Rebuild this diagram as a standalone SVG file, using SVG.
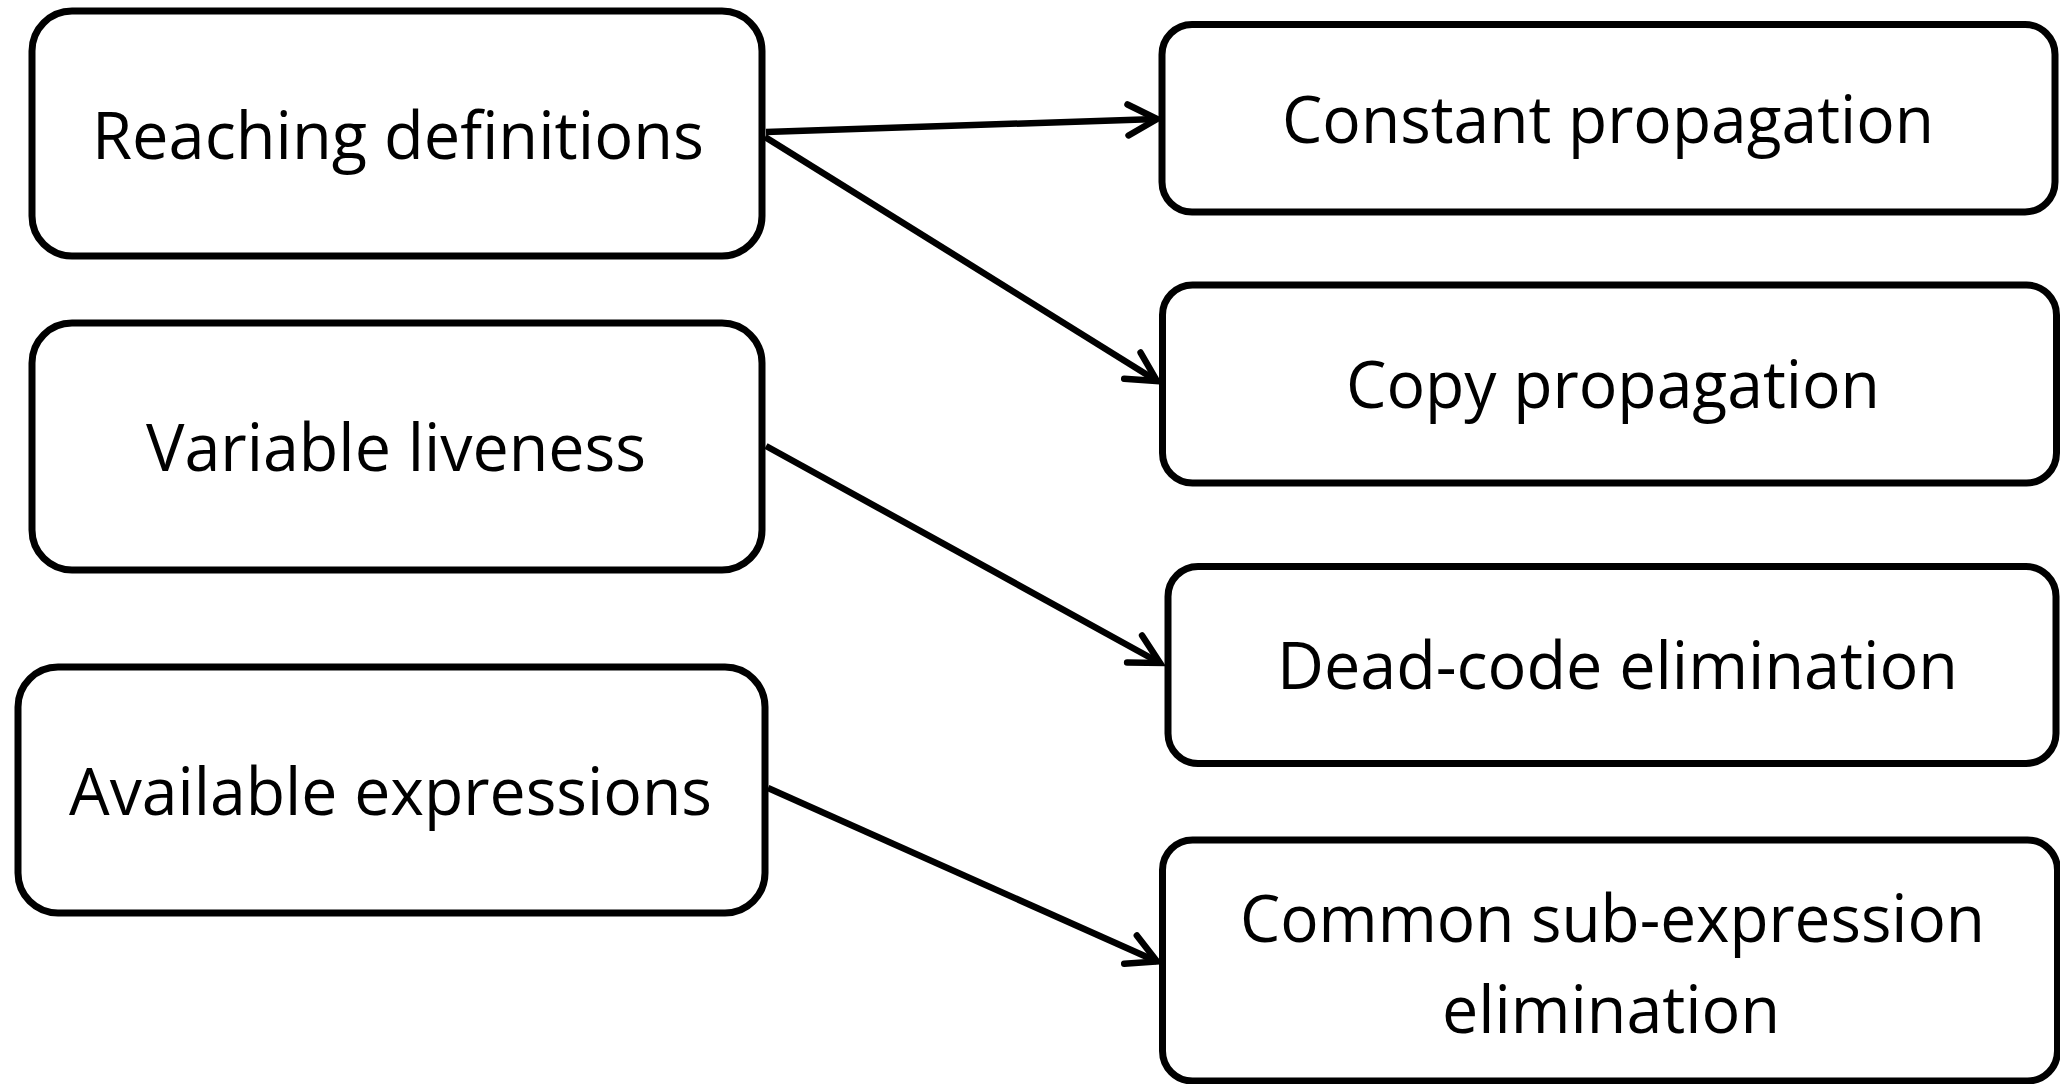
<svg xmlns="http://www.w3.org/2000/svg" width="2060" height="1084" viewBox="0 0 2060 1084">
<style>
.box{fill:#fff;stroke:#000;stroke-width:7}
.lbl{font-family:"Open Sans","Noto Sans","Liberation Sans",sans-serif;font-size:65px;fill:#000;text-anchor:middle}
.edge{fill:none;stroke:#000;stroke-width:6.5}
</style>
<defs>
<marker id="arr" markerUnits="userSpaceOnUse" orient="auto" refX="0" refY="0" markerWidth="60" markerHeight="60" viewBox="-40 -30 60 60" overflow="visible">
<path d="M-29,-15.5 L0,0 L-29,15.5" fill="none" stroke="#000" stroke-width="6.5" stroke-linecap="round" stroke-linejoin="miter"/>
</marker>
</defs>
<rect width="2060" height="1084" fill="#fff"/>
<g id="edges">
<line class="edge" x1="766" y1="132" x2="1157" y2="119" marker-end="url(#arr)"/>
<line class="edge" x1="765" y1="137" x2="1157" y2="381" marker-end="url(#arr)"/>
<line class="edge" x1="766" y1="446" x2="1160" y2="663" marker-end="url(#arr)"/>
<line class="edge" x1="768" y1="788" x2="1157" y2="961.5" marker-end="url(#arr)"/>
</g>
<g id="reaching">
<rect class="box" x="32" y="11" width="730" height="245" rx="40"/>
<text class="lbl" x="398" y="159" textLength="612" lengthAdjust="spacingAndGlyphs">Reaching definitions</text>
</g>
<g id="liveness">
<rect class="box" x="32" y="323" width="730" height="247" rx="40"/>
<text class="lbl" x="396" y="471" textLength="500" lengthAdjust="spacingAndGlyphs">Variable liveness</text>
</g>
<g id="available">
<rect class="box" x="18" y="667" width="747" height="246" rx="40"/>
<text class="lbl" x="390.5" y="815" textLength="643" lengthAdjust="spacingAndGlyphs">Available expressions</text>
</g>
<g id="constant">
<rect class="box" x="1162" y="24.5" width="893" height="187.5" rx="30"/>
<text class="lbl" x="1608" y="143" textLength="652" lengthAdjust="spacingAndGlyphs">Constant propagation</text>
</g>
<g id="copy">
<rect class="box" x="1162.5" y="285" width="894" height="198" rx="30"/>
<text class="lbl" x="1613" y="408" textLength="534" lengthAdjust="spacingAndGlyphs">Copy propagation</text>
</g>
<g id="deadcode">
<rect class="box" x="1168" y="566.5" width="888" height="197" rx="30"/>
<text class="lbl" x="1617.5" y="689" textLength="681" lengthAdjust="spacingAndGlyphs">Dead-code elimination</text>
</g>
<g id="cse">
<rect class="box" x="1162.5" y="840" width="895" height="241" rx="30"/>
<text class="lbl" x="1612.5" y="942" textLength="745" lengthAdjust="spacingAndGlyphs">Common sub-expression</text>
<text class="lbl" x="1611" y="1033" textLength="338" lengthAdjust="spacingAndGlyphs">elimination</text>
</g>
</svg>
